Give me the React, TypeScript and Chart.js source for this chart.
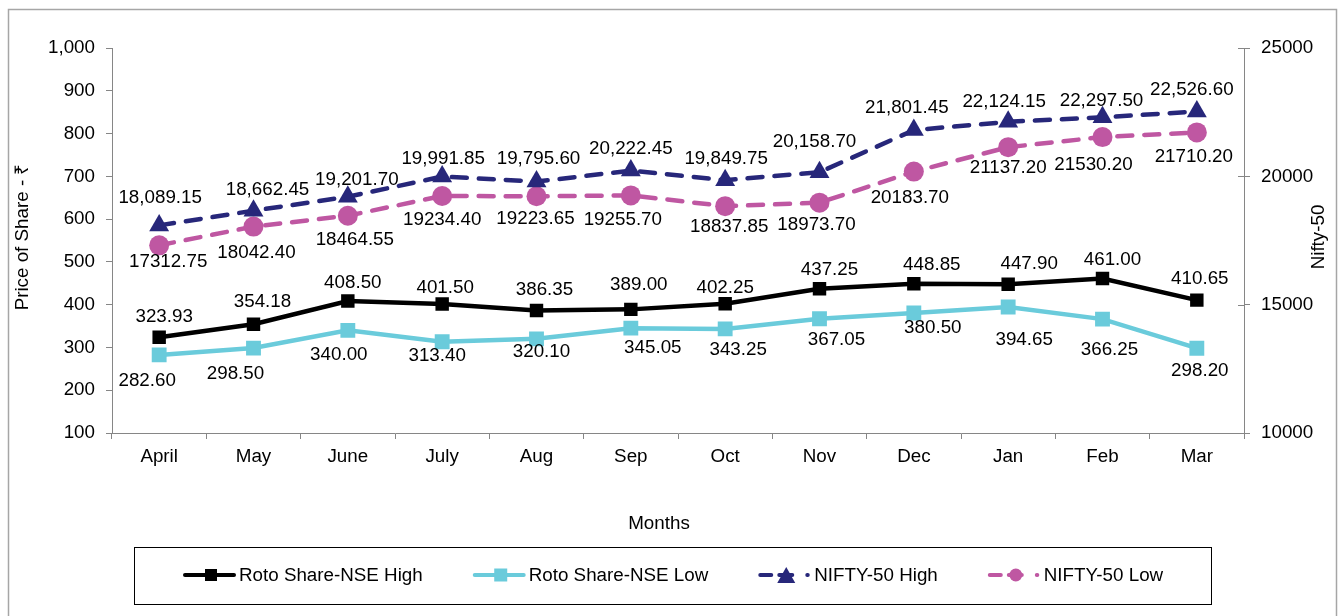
import { useEffect, useRef } from "react";
import { Chart, registerables } from "chart.js";

Chart.register(...registerables);

const months = ["April", "May", "June", "July", "Aug", "Sep", "Oct", "Nov", "Dec", "Jan", "Feb", "Mar"];
const rotoHigh = [323.93, 354.18, 408.5, 401.5, 386.35, 389.0, 402.25, 437.25, 448.85, 447.9, 461.0, 410.65];
const rotoLow = [282.6, 298.5, 340.0, 313.4, 320.1, 345.05, 343.25, 367.05, 380.5, 394.65, 366.25, 298.2];
const niftyHigh = [18089.15, 18662.45, 19201.7, 19991.85, 19795.6, 20222.45, 19849.75, 20158.7, 21801.45, 22124.15, 22297.5, 22526.6];
const niftyLow = [17312.75, 18042.4, 18464.55, 19234.4, 19223.65, 19255.7, 18837.85, 18973.7, 20183.7, 21137.2, 21530.2, 21710.2];

const seriesNames = ["Roto Share-NSE High", "Roto Share-NSE Low", "NIFTY-50 High", "NIFTY-50 Low"];
const leftTicks = { min: 100, max: 1000, step: 100 };
const rightTicks = { min: 10000, max: 25000, step: 5000 };

// data-label offsets relative to each point (label placement, as in the source)
const labelDx = [
  [5, 9, 5, 3, 8, 8, 0, 10, 18, 21, 10, 3],
  [-12, -18, -9, -5, 5, 22, 13, 17, 19, 16, 7, 3],
  [1, 14, 9, 1, 2, 0, 1, -5, -7, -4, -1, -5],
  [9, 3, 7, 0, -1, -8, 4, -3, -4, 0, -9, -3],
];
const labelDy = [
  [-20, -22, -18, -16, -21, -25, -16, -19, -19, -20, -19, -21],
  [26, 26, 24, 14, 13, 20, 21, 21, 15, 33, 31, 23],
  [-28, -21, -17, -18, -23, -22, -21, -30, -22, -20, -17, -22],
  [17, 26, 24, 24, 23, 24, 21, 22, 26, 21, 28, 24],
];

const FONT = "Liberation Sans, Arial, sans-serif";
const FS = 18.8;
const AXIS = "#868686";
const C_BLACK = "#000000";
const C_CYAN = "#6ACBDB";
const C_NAVY = "#27277A";
const C_PINK = "#BF57A2";
const DASH = [15, 12];

const fmt2 = (v: number) => v.toFixed(2);
const fmtComma = (v: number) =>
  v.toLocaleString("en-US", { minimumFractionDigits: 2, maximumFractionDigits: 2 });
const labelFormats = [fmt2, fmt2, fmtComma, fmt2];

function drawMarker(ctx: CanvasRenderingContext2D, kind: string, x: number, y: number, s: number, color: string) {
  ctx.save();
  ctx.fillStyle = color;
  ctx.beginPath();
  if (kind === "rect") {
    ctx.rect(x - s / 2, y - s / 2, s, s);
  } else if (kind === "triangle") {
    const h = s * 0.9;
    ctx.moveTo(x, y - h / 2);
    ctx.lineTo(x + s / 2, y + h / 2);
    ctx.lineTo(x - s / 2, y + h / 2);
    ctx.closePath();
  } else {
    ctx.arc(x, y, s / 2, 0, Math.PI * 2);
  }
  ctx.fill();
  ctx.restore();
}

const decorPlugin = {
  id: "decor",
  beforeDraw(chart: any) {
    const ctx = chart.ctx as CanvasRenderingContext2D;
    ctx.save();
    ctx.fillStyle = "#ffffff";
    ctx.fillRect(0, 0, chart.width, chart.height);
    ctx.strokeStyle = "#A6A6A6";
    ctx.lineWidth = 1.5;
    ctx.strokeRect(8.5, 9.5, 1328, 640);
    ctx.restore();
  },
  afterDraw(chart: any) {
    const ctx = chart.ctx as CanvasRenderingContext2D;
    const area = chart.chartArea;
    ctx.save();
    // inner ticks of the right axis
    const y1 = chart.scales.y1;
    ctx.strokeStyle = AXIS;
    ctx.lineWidth = 1;
    y1.ticks.forEach((t: any) => {
      const py = Math.round(y1.getPixelForValue(t.value)) + 0.5;
      ctx.beginPath();
      ctx.moveTo(area.right - 6, py);
      ctx.lineTo(area.right, py);
      ctx.stroke();
    });

    // axis titles
    ctx.fillStyle = "#000";
    ctx.font = `${FS}px ${FONT}`;
    ctx.textAlign = "center";
    ctx.textBaseline = "middle";
    ctx.fillText("Months", 659, 524);
    ctx.save();
    ctx.translate(23, 237);
    ctx.rotate(-Math.PI / 2);
    ctx.fillText("Price of Share - \u20B9", 0, 0);
    ctx.restore();
    ctx.save();
    ctx.translate(1319, 237);
    ctx.rotate(-Math.PI / 2);
    ctx.fillText("Nifty-50", 0, 0);
    ctx.restore();

    // legend
    const bx = 134, by = 547, bw = 1077, bh = 57;
    ctx.strokeStyle = "#000";
    ctx.lineWidth = 1;
    ctx.strokeRect(bx + 0.5, by + 0.5, bw, bh);
    const solid = [[2, 51]];
    const dashed = [[2, 13], [21, 34], [49, 49.5]];
    const items = [
      { color: C_BLACK, kind: "rect", segs: solid, size: 12 },
      { color: C_CYAN, kind: "rect", segs: solid, size: 13 },
      { color: C_NAVY, kind: "triangle", segs: dashed, size: 18 },
      { color: C_PINK, kind: "circle", segs: dashed, size: 13 },
    ];
    const ly = 575;
    let x = 183;
    items.forEach((it, i) => {
      ctx.save();
      ctx.strokeStyle = it.color;
      ctx.lineWidth = 4;
      ctx.lineCap = "round";
      it.segs.forEach((sg) => {
        ctx.beginPath();
        ctx.moveTo(x + sg[0], ly);
        ctx.lineTo(x + sg[1], ly);
        ctx.stroke();
      });
      ctx.restore();
      drawMarker(ctx, it.kind, x + 28, ly, it.size, it.color);
      ctx.fillStyle = "#000";
      ctx.textAlign = "left";
      ctx.textBaseline = "middle";
      ctx.font = `${FS}px ${FONT}`;
      const tx = x + 56;
      ctx.fillText(seriesNames[i], tx, ly + 1);
      x = tx + ctx.measureText(seriesNames[i]).width + 50;
    });
    ctx.restore();
  },
  afterDatasetsDraw(chart: any) {
    const ctx = chart.ctx as CanvasRenderingContext2D;
    ctx.save();
    ctx.fillStyle = "#000";
    ctx.font = `${FS}px ${FONT}`;
    ctx.textAlign = "center";
    ctx.textBaseline = "middle";
    chart.data.datasets.forEach((ds: any, i: number) => {
      const meta = chart.getDatasetMeta(i);
      meta.data.forEach((pt: any, j: number) => {
        const txt = labelFormats[i](ds.data[j]);
        ctx.fillText(txt, pt.x + labelDx[i][j], pt.y + labelDy[i][j]);
      });
    });
    ctx.restore();
  },
};

export default function App() {
  const ref = useRef<HTMLCanvasElement | null>(null);

  useEffect(() => {
    if (!ref.current) return;
    const tickFont = { family: FONT, size: FS };
    const chart = new Chart(ref.current, {
      type: "line",
      data: {
        labels: months,
        datasets: [
          {
            label: seriesNames[0],
            data: rotoHigh,
            yAxisID: "y",
            borderColor: C_BLACK,
            backgroundColor: C_BLACK,
            borderWidth: 4.5,
            pointStyle: "rect",
            pointRadius: 9.5,
            pointBorderWidth: 0,
            tension: 0,
          },
          {
            label: seriesNames[1],
            data: rotoLow,
            yAxisID: "y",
            borderColor: C_CYAN,
            backgroundColor: C_CYAN,
            borderWidth: 4.5,
            pointStyle: "rect",
            pointRadius: 10.5,
            pointBorderWidth: 0,
            tension: 0,
          },
          {
            label: seriesNames[2],
            data: niftyHigh,
            yAxisID: "y1",
            borderColor: C_NAVY,
            backgroundColor: C_NAVY,
            borderWidth: 4.5,
            borderDash: DASH,
            borderCapStyle: "round",
            pointStyle: "triangle",
            pointRadius: 11.5,
            pointBorderWidth: 0,
            tension: 0,
          },
          {
            label: seriesNames[3],
            data: niftyLow,
            yAxisID: "y1",
            borderColor: C_PINK,
            backgroundColor: C_PINK,
            borderWidth: 4.5,
            borderDash: DASH,
            borderCapStyle: "round",
            pointStyle: "circle",
            pointRadius: 10,
            pointBorderWidth: 0,
            tension: 0,
          },
        ],
      },
      options: {
        responsive: false,
        animation: false,
        devicePixelRatio: 1,
        layout: { padding: { top: 48, left: 0, right: 0, bottom: 0 } },
        plugins: {
          legend: { display: false },
          tooltip: { enabled: false },
          title: { display: false },
        },
        scales: {
          x: {
            offset: true,
            grid: { offset: true, drawOnChartArea: false, tickLength: 6, color: AXIS, lineWidth: 1 },
            border: { color: AXIS, width: 1 },
            ticks: { color: "#000", font: tickFont, padding: 7, maxRotation: 0, autoSkip: false },
            afterFit: (s: any) => {
              s.height = 616 - 433;
            },
          },
          y: {
            position: "left",
            min: leftTicks.min,
            max: leftTicks.max,
            grid: { drawOnChartArea: false, tickLength: 6, color: AXIS, lineWidth: 1 },
            border: { color: AXIS, width: 1 },
            ticks: {
              stepSize: leftTicks.step,
              color: "#000",
              font: tickFont,
              padding: 11,
              callback: (v: any) => Number(v).toLocaleString("en-US"),
            },
            afterFit: (s: any) => {
              s.width = 112;
            },
          },
          y1: {
            position: "right",
            min: rightTicks.min,
            max: rightTicks.max,
            grid: { drawOnChartArea: false, tickLength: 6, color: AXIS, lineWidth: 1 },
            border: { color: AXIS, width: 1 },
            ticks: {
              stepSize: rightTicks.step,
              color: "#000",
              font: tickFont,
              padding: 11,
              callback: (v: any) => String(v),
            },
            afterFit: (s: any) => {
              s.width = 1341 - 1244;
            },
          },
        },
      } as any,
      plugins: [decorPlugin],
    });
    return () => chart.destroy();
  }, []);

  return (
    <div style={{ position: "absolute", left: 0, top: 0, width: 1341, height: 616, overflow: "hidden" }}>
      <canvas ref={ref} width={1341} height={616} style={{ display: "block" }} />
    </div>
  );
}
